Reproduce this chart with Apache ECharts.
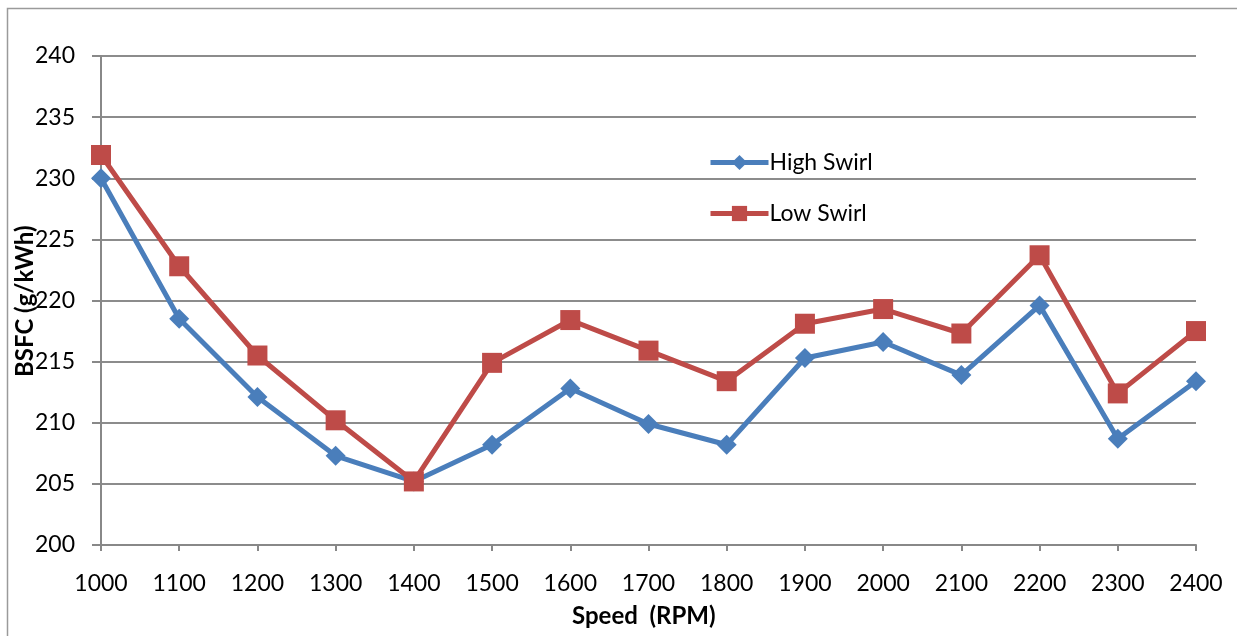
<!DOCTYPE html>
<html>
<head>
<meta charset="utf-8">
<script src="https://cdn.jsdelivr.net/npm/echarts@6/dist/echarts.min.js"></script>
<style>html,body{margin:0;padding:0;background:#fff;}#c{width:1237px;height:636px;}</style>
</head>
<body>
<div id="c"></div>
<script>
var categories = ['1000','1100','1200','1300','1400','1500','1600','1700','1800','1900','2000','2100','2200','2300','2400'];
var highSwirl = [230.0, 218.5, 212.1, 207.3, 205.2, 208.2, 212.8, 209.9, 208.2, 215.3, 216.6, 213.9, 219.6, 208.7, 213.4];
var lowSwirl  = [231.9, 222.8, 215.5, 210.2, 205.2, 214.9, 218.4, 215.9, 213.4, 218.1, 219.3, 217.3, 223.7, 212.4, 217.5];
var seriesNames = ['High Swirl', 'Low Swirl'];
var yTitle = 'BSFC (g/kWh)';
var xTitle = 'Speed  (RPM)';

var FONT = 'Lato, "DejaVu Sans Condensed", "Liberation Sans", Arial, sans-serif';
var chart = echarts.init(document.getElementById('c'), null, {renderer: 'canvas'});
chart.setOption({
  animation: false,
  backgroundColor: '#fff',
  graphic: [
    {type: 'rect', left: 5, top: 6, shape: {width: 1300, height: 700},
     style: {fill: 'none', stroke: '#9a9a9a', lineWidth: 1.5}, silent: true, z: -1},
    {type: 'text', left: 572, top: 604,
     style: {text: xTitle, font: 'bold 24px ' + FONT, fill: '#000'}},
    {type: 'text', rotation: Math.PI / 2, x: 13, y: 377,
     style: {text: yTitle, font: 'bold 24px ' + FONT, fill: '#000'}}
  ],
  grid: {left: 101, right: 41, top: 56, bottom: 91},
  legend: {
    orient: 'vertical', left: 703, top: 146, itemGap: 28,
    itemWidth: 58, itemHeight: 19,
    lineStyle: {width: 5},
    textStyle: {fontFamily: FONT, fontSize: 23, color: '#000', padding: [0, 0, 0, -4]},
    data: seriesNames
  },
  xAxis: {
    type: 'category', data: categories, boundaryGap: false,
    axisLine: {lineStyle: {color: '#888', width: 2}},
    axisTick: {show: true, length: 6, alignWithLabel: true, lineStyle: {color: '#888', width: 2}},
    axisLabel: {fontFamily: FONT, fontSize: 23, color: '#000', margin: 27}
  },
  yAxis: {
    type: 'value', min: 200, max: 240, interval: 5,
    axisLine: {show: true, lineStyle: {color: '#888', width: 2}},
    axisTick: {show: true, length: 9, lineStyle: {color: '#888', width: 2}},
    splitLine: {lineStyle: {color: '#8c8c8c', width: 2}},
    axisLabel: {fontFamily: FONT, fontSize: 23, color: '#000', margin: 26}
  },
  series: [
    {name: seriesNames[0], type: 'line', data: highSwirl, symbol: 'diamond', symbolSize: 20,
     lineStyle: {color: '#4A7EBB', width: 5}, itemStyle: {color: '#4A7EBB'}, z: 2},
    {name: seriesNames[1], type: 'line', data: lowSwirl, symbol: 'rect', symbolSize: 20,
     lineStyle: {color: '#BE4B48', width: 5}, itemStyle: {color: '#BE4B48'}, z: 3}
  ]
});
</script>
</body>
</html>
